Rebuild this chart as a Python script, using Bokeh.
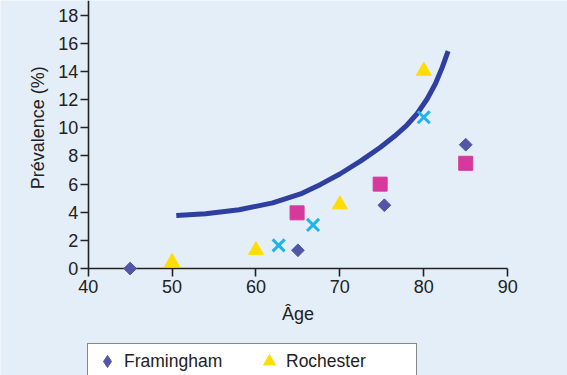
from math import pi
from bokeh.plotting import figure
from bokeh.models import Range1d, FixedTicker, Legend, LegendItem, Label
from bokeh.embed import file_html
from bokeh.resources import INLINE

# ---- data ----
fram_age = [45, 65, 75.3, 85]
fram_prev = [0.0, 1.3, 4.5, 8.8]

roch_age = [50, 60, 70, 80]
roch_prev = [0.45, 1.3, 4.55, 14.05]

cross_age = [62.7, 66.8, 80.0]
cross_prev = [1.65, 3.1, 10.75]

square_age = [64.9, 74.8, 85.0]
square_prev = [3.96, 6.0, 7.48]

curve_age = [50.5, 54, 58, 62, 65.5, 67.7, 70, 72.5, 74.8, 76.5, 78, 79.2, 80.4, 81.4, 82.2, 82.9]
curve_prev = [3.77, 3.9, 4.18, 4.67, 5.35, 5.98, 6.72, 7.65, 8.6, 9.4, 10.2, 11.0, 12.05, 13.15, 14.3, 15.45]

x_ticks = [40, 50, 60, 70, 80, 90]
y_ticks = [0, 2, 4, 6, 8, 10, 12, 14, 16, 18]

x_label = "Âge"
y_label = "Prévalence (%)"
legend_labels = ["Framingham", "Rochester"]

# ---- styles ----
BG = "#e4eef9"
TXT = "#222222"
FONT = "Liberation Sans"
C_FRAM = "#5156a6"
C_ROCH = "#ffdd00"

# the frame covers the whole canvas; axes are pinned at age 40 / prevalence 0
p = figure(width=567, height=375, x_range=Range1d(29.55, 97.13), y_range=Range1d(-7.6, 19.05),
           output_backend="svg", toolbar_location=None,
           min_border_left=0, min_border_right=0, min_border_top=0, min_border_bottom=0,
           background_fill_color=BG, border_fill_color=BG, outline_line_color=None)
p.grid.visible = False

for ax in (p.xaxis[0], p.yaxis[0]):
    ax.axis_line_color = TXT
    ax.axis_line_width = 1.6
    ax.major_tick_line_color = TXT
    ax.major_tick_line_width = 1.6
    ax.major_tick_in = 0
    ax.major_tick_out = 8
    ax.minor_tick_line_color = None
    ax.major_label_text_font = FONT
    ax.major_label_text_font_size = "18px"
    ax.major_label_text_color = TXT
    ax.axis_label_text_font = FONT
    ax.axis_label_text_font_size = "18px"
    ax.axis_label_text_font_style = "normal"
    ax.axis_label_text_color = TXT

p.xaxis.fixed_location = 0
p.xaxis.bounds = (40, 90)
p.yaxis.fixed_location = 40
p.yaxis.bounds = (0, 19.05)
p.xaxis.ticker = FixedTicker(ticks=x_ticks)
p.yaxis.ticker = FixedTicker(ticks=y_ticks)
p.xaxis.major_label_standoff = 3
p.yaxis.major_label_standoff = 2
p.xaxis.axis_label = x_label
p.xaxis.axis_label_standoff = 8

p.add_layout(Label(x=33.96, y=10.0, text=y_label, angle=pi / 2,
                   text_align="center", text_baseline="middle",
                   text_font=FONT, text_font_size="18px", text_color=TXT))

# curve
p.line(curve_age, curve_prev, line_color="#2f3f9f", line_width=5, line_cap="butt", line_join="round")

p.scatter(fram_age, fram_prev, marker="square", angle=pi / 4, size=9,
          fill_color=C_FRAM, line_color=C_FRAM, level="overlay")
r_roch = p.scatter(roch_age, roch_prev, marker="triangle", size=15,
                   fill_color=C_ROCH, line_color=C_ROCH, level="overlay")
p.scatter(cross_age, cross_prev, marker="x", size=17, line_width=3,
          line_color="#1db4e9", level="overlay")
p.scatter(square_age, square_prev, marker="square", size=14,
          fill_color="#d8389c", line_color="#d8389c", level="overlay")

# legend key for the diamonds (a legend draws its markers unrotated); not drawn in the plot
nan = float("nan")
r_fram_key = p.scatter(x=[nan], y=[nan], marker="diamond", fill_color=C_FRAM, line_color=C_FRAM)

legend = Legend(items=[LegendItem(label=legend_labels[0], renderers=[r_fram_key]),
                       LegendItem(label=legend_labels[1], renderers=[r_roch])],
                orientation="horizontal", location=(87, -4),
                glyph_width=34, glyph_height=30, padding=2, spacing=0,
                label_standoff=0, label_width=128,
                label_text_font=FONT, label_text_font_size="17.5px", label_text_color=TXT,
                border_line_color="#111111", border_line_width=1.2,
                background_fill_color="white", background_fill_alpha=1.0)
p.add_layout(legend, "center")

open("out.html", "w").write(file_html(p, INLINE))
